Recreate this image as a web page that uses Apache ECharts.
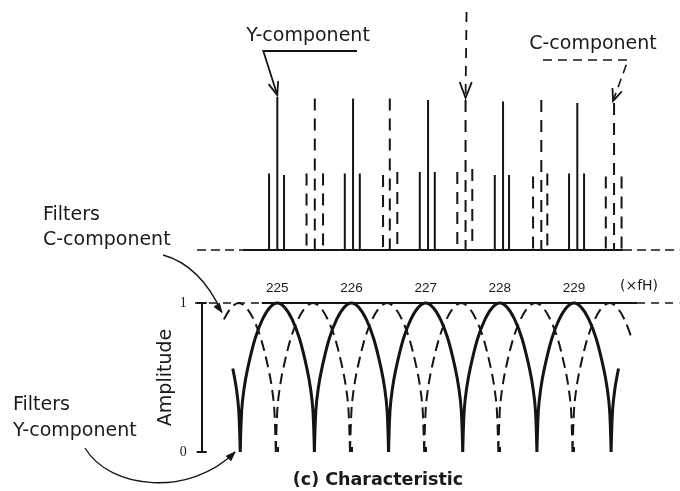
<!DOCTYPE html>
<html>
<head>
<meta charset="utf-8">
<script src="https://cdn.jsdelivr.net/npm/echarts@6/dist/echarts.min.js"></script>
<style>
  html, body { margin: 0; padding: 0; background: #fff; }
  #chart { width: 680px; height: 491px; }
</style>
</head>
<body>
<div id="chart"></div>
<script>
// ---- Spectrum (upper panel), frequencies in multiples of fH ----
const yLineX = [224.89, 225.00, 225.09, 225.90, 226.01, 226.10, 226.90, 227.01, 227.10, 227.90, 228.01, 228.09, 228.89, 229.00, 229.09];
const yLineH = [0.51, 1.02, 0.50, 0.51, 1.01, 0.51, 0.52, 1.00, 0.52, 0.50, 0.99, 0.50, 0.51, 0.98, 0.51];
const cLineX = [225.39, 225.50, 225.61, 226.41, 226.50, 226.60, 227.40, 227.51, 227.60, 228.41, 228.52, 228.60, 229.38, 229.49, 229.59];
const cLineH = [0.51, 1.01, 0.51, 0.50, 1.01, 0.52, 0.52, 1.00, 0.54, 0.49, 1.00, 0.51, 0.49, 0.98, 0.49];

// spectrum baseline spans [from, to]
const baseDashed = [[223.93, 224.54], [229.61, 230.36]];
const baseSolid = [[224.54, 229.61]];

// ---- Comb filter characteristic (lower panel) ----
const tickLabels = [225, 226, 227, 228, 229];
// one lobe of the response: offset from the lobe centre (×fH) and amplitude
const lobeOffsets = [-0.5, -0.48, -0.45, -0.4, -0.3, -0.2, -0.1, 0, 0.1, 0.2, 0.3, 0.4, 0.45, 0.48, 0.5];
const lobeLevels  = [0, 0.28, 0.42, 0.56, 0.76, 0.89, 0.97, 1, 0.97, 0.89, 0.76, 0.56, 0.42, 0.28, 0];
// lobes drawn: [centre, first offset, last offset]
const solidLobes  = [[224, 0.4, 0.5], [225, -0.5, 0.5], [226, -0.5, 0.5], [227, -0.5, 0.5], [228, -0.5, 0.5], [229, -0.5, 0.5], [230, -0.5, -0.4]];
const dashedLobes = [[224.48, -0.2, 0.5], [225.48, -0.5, 0.5], [226.48, -0.5, 0.5], [227.48, -0.5, 0.5], [228.48, -0.5, 0.5], [229.48, -0.5, 0.3]];
// unity-amplitude reference line spans
const unityDashed = [[223.89, 224.79], [229.85, 230.42]];
const unitySolid = [[224.79, 229.85]];

const INK = '#141414';
const SANS = '"DejaVu Sans", "Liberation Sans", sans-serif';

function lobeData(lobes) {
  const out = [];
  lobes.forEach(([c, a, b]) => {
    lobeOffsets.forEach((o, i) => {
      if (o >= a - 1e-9 && o <= b + 1e-9) out.push([+(c + o).toFixed(4), lobeLevels[i]]);
    });
    out.push([c, '-']);
  });
  return out;
}
function spanData(spans, y) {
  const out = [];
  spans.forEach(([a, b]) => { out.push([a, y], [b, y], [b, '-']); });
  return out;
}
function stickSeries(xs, hs, dashed) {
  return {
    type: 'custom', xAxisIndex: 0, yAxisIndex: 0,
    data: xs.map((x, i) => [x, hs[i]]),
    renderItem: (params, api) => {
      const top = api.coord([api.value(0), api.value(1)]);
      const bot = api.coord([api.value(0), 0]);
      return {
        type: 'line',
        shape: { x1: top[0], y1: top[1], x2: bot[0], y2: bot[1] },
        style: { stroke: INK, lineWidth: 2, lineDash: dashed ? [12, 8] : null }
      };
    }
  };
}
function lineSeries(data, xi, width, dash, smooth) {
  return {
    type: 'line', xAxisIndex: xi, yAxisIndex: xi, data,
    showSymbol: false, symbol: 'none', smooth: smooth || false, clip: false,
    lineStyle: { color: INK, width, type: dash || 'solid' },
    silent: true
  };
}

const chart = echarts.init(document.getElementById('chart'), null, { renderer: 'canvas' });
chart.setOption({
  animation: false,
  backgroundColor: '#fff',
  grid: [
    { left: 127.3, width: 552.7, top: 10, height: 240 },
    { left: 128.95, width: 551.05, top: 303, height: 149 },
    { left: 201.7, width: 10, top: 303, height: 149 }
  ],
  xAxis: [
    { type: 'value', gridIndex: 0, min: 223, max: 230.3693, show: false },
    {
      type: 'value', gridIndex: 1, min: 223, max: 230.429, position: 'top',
      axisLine: { show: false }, splitLine: { show: false },
      axisTick: { show: true, customValues: tickLabels, length: 5, lineStyle: { color: INK, width: 2 } },
      axisLabel: { show: true, customValues: tickLabels, margin: 8, color: '#1a1a1a', fontSize: 13.5, fontFamily: '"Liberation Sans", Arial, sans-serif' }
    },
    { type: 'value', gridIndex: 2, min: 0, max: 1, show: false }
  ],
  yAxis: [
    { type: 'value', gridIndex: 0, min: 0, max: 1.6, show: false },
    { type: 'value', gridIndex: 1, min: 0, max: 1, show: false },
    {
      type: 'value', gridIndex: 2, min: 0, max: 1, interval: 1, position: 'left',
      name: 'Amplitude', nameLocation: 'middle', nameGap: 7,
      nameTextStyle: { fontSize: 19, fontFamily: SANS, color: '#1a1a1a' },
      axisLine: { show: true, symbol: ['rect', 'rect'], symbolSize: [10, 2], lineStyle: { color: INK, width: 2 } },
      axisTick: { show: false }, splitLine: { show: false },
      axisLabel: { margin: 15, fontSize: 14, fontFamily: '"Liberation Serif", "DejaVu Serif", serif', color: '#1a1a1a' }
    }
  ],
  series: [
    lineSeries(spanData(baseDashed, 0), 0, 1.5, [9, 5]),
    lineSeries(spanData(baseSolid, 0), 0, 2),
    stickSeries(yLineX, yLineH, false),
    stickSeries(cLineX, cLineH, true),
    lineSeries(spanData(unityDashed, 1), 1, 1.6, [8, 6]),
    lineSeries(spanData(unitySolid, 1), 1, 2),
    lineSeries(lobeData(dashedLobes), 1, 2, [11, 6], 0.35),
    lineSeries(lobeData(solidLobes), 1, 3, 'solid', 0.35)
  ]
});

// ---- annotations (text, leaders and arrows) ----
const px = (g, x, y) => chart.convertToPixel({ gridIndex: g }, [x, y]);
function head(tip, from, len, half) {
  const dx = tip[0] - from[0], dy = tip[1] - from[1];
  const L = Math.hypot(dx, dy), ux = dx / L, uy = dy / L;
  const bx = tip[0] - ux * len, by = tip[1] - uy * len;
  return [[bx - uy * half, by + ux * half], tip, [bx + uy * half, by - ux * half]];
}
const stroke = (w, dash) => ({ stroke: INK, lineWidth: w, fill: null, lineDash: dash || null });
const label = (x, y, text, opts) => Object.assign({
  type: 'text', x, y,
  style: Object.assign({ text, fill: '#1a1a1a', fontSize: 19, fontFamily: SANS, align: 'left', verticalAlign: 'middle' }, opts || {})
});

const g = [];
// Y-component pointer
const yTip = px(0, 225, 1.02); yTip[1] -= 2;
const yElbow = [yTip[0] - 14, 51];
g.push(label(308, 36, 'Y-component', { align: 'center' }));
g.push({ type: 'polyline', shape: { points: [[357, 51], yElbow, yTip] }, style: stroke(1.8) });
g.push({ type: 'polyline', shape: { points: head(yTip, yElbow, 13, 5) }, style: stroke(1.8) });

// C-component pointer (dashed)
const cTip = px(0, 229.49, 0.98); cTip[0] -= 1; cTip[1] -= 2;
const cElbow = [628, 60];
g.push(label(593, 44, 'C-component', { align: 'center' }));
g.push({ type: 'polyline', shape: { points: [[543, 60], cElbow, cTip] }, style: stroke(1.6, [9, 6]) });
g.push({ type: 'polyline', shape: { points: head(cTip, cElbow, 12, 5) }, style: stroke(1.8) });

// dashed pointer from above onto the 227.5 component
const mTip = px(0, 227.51, 1.0); mTip[1] -= 2;
const mFrom = [mTip[0] + 1, 12];
g.push({ type: 'line', shape: { x1: mFrom[0], y1: mFrom[1], x2: mTip[0], y2: mTip[1] }, style: stroke(1.8, [10, 8]) });
g.push({ type: 'polyline', shape: { points: head(mTip, mFrom, 16, 6) }, style: stroke(1.8) });

// "Filters C-component" curved arrow to the dashed response
const fcTip = px(1, 224.28, 0.89); fcTip[0] -= 2; fcTip[1] -= 7;
const fcCtrl = [200, 265];
g.push(label(43, 215, 'Filters'));
g.push(label(43, 240, 'C-component'));
g.push({ type: 'bezierCurve', shape: { x1: 163, y1: 255, cpx1: fcCtrl[0], cpy1: fcCtrl[1], x2: fcTip[0], y2: fcTip[1] }, style: stroke(1.3) });
g.push({ type: 'polygon', shape: { points: head(fcTip, [fcTip[0] - 9, fcTip[1] - 13], 9, 3.2) }, style: { fill: INK, stroke: INK, lineWidth: 1 } });

// "Filters Y-component" curved arrow to the solid response
const fyTip = px(1, 224.43, 0.0);
const fyC2 = [190, 497];
g.push(label(13, 405, 'Filters'));
g.push(label(13, 431, 'Y-component'));
g.push({ type: 'bezierCurve', shape: { x1: 85, y1: 448, cpx1: 110, cpy1: 490, cpx2: fyC2[0], cpy2: fyC2[1], x2: fyTip[0], y2: fyTip[1] }, style: stroke(1.3) });
g.push({ type: 'polygon', shape: { points: head(fyTip, fyC2, 9, 3.2) }, style: { fill: INK, stroke: INK, lineWidth: 1 } });

// frequency unit and caption
g.push(label(639, 286, '(×fH)', { align: 'center', fontSize: 14 }));
g.push(label(378, 480, '(c) Characteristic', { align: 'center', fontSize: 17.5, fontWeight: 'bold' }));

chart.setOption({ graphic: g });
</script>
</body>
</html>
